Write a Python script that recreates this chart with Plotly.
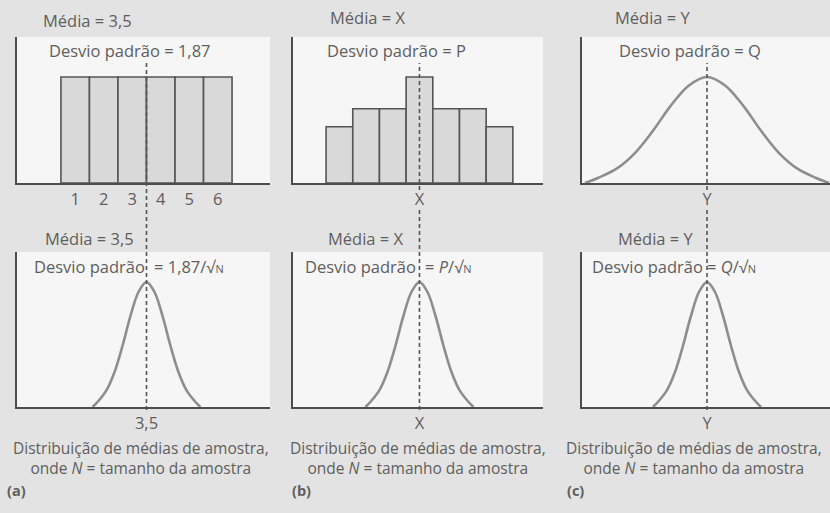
import plotly.graph_objects as go

W, H = 830, 513

# ---------------- data ----------------
die_faces = [1, 2, 3, 4, 5, 6]
die_freq = [1, 1, 1, 1, 1, 1]

pop_b_bins = [-3, -2, -1, 0, 1, 2, 3]
pop_b_freq = [0.53, 0.70, 0.70, 1.0, 0.70, 0.70, 0.53]

# bell-shaped profile (offset in SD units, relative height)
bell_z = [-2.7, -2.4, -2.0, -1.6, -1.2, -0.8, -0.4, 0.0, 0.4, 0.8, 1.2, 1.6, 2.0, 2.4, 2.7]
bell_h = [0.0, 0.05, 0.135, 0.28, 0.49, 0.73, 0.92, 1.0, 0.92, 0.73, 0.49, 0.28, 0.135, 0.05, 0.0]

mean_a, mean_b, mean_c = 3.5, 0.0, 0.0
sd_pop_c = 1.13
sd_means = [0.70, 0.75, 0.50]

tick_a_top = ["1", "2", "3", "4", "5", "6"]
tick_a_bot = ["3,5"]
tick_b = ["X"]
tick_c = ["Y"]

# ---------------- styling ----------------
FONT = "Open Sans"
TXT = "#5e5e5e"
AXC = "#4d4d4d"
CURVE = "#8e8e8e"
BAR_FILL = "#d9d9d9"
BAR_EDGE = "#555555"
FS = 16.5
FS_CAP = 15.5
BG = "#e3e3e3"


def px_x(p):
    return p / W


def px_y(p):
    return 1 - p / H


fig = go.Figure()

# top panels
fig.add_trace(go.Bar(x=die_faces, y=die_freq, width=1.0, marker=dict(color=BAR_FILL, line=dict(color=BAR_EDGE, width=1.6)),
                     xaxis="x", yaxis="y", showlegend=False, hoverinfo="skip"))
fig.add_trace(go.Bar(x=pop_b_bins, y=pop_b_freq, width=1.0, marker=dict(color=BAR_FILL, line=dict(color=BAR_EDGE, width=1.6)),
                     xaxis="x2", yaxis="y2", showlegend=False, hoverinfo="skip"))
fig.add_trace(go.Scatter(x=[mean_c + z * sd_pop_c for z in bell_z], y=bell_h, mode="lines",
                         line=dict(color=CURVE, width=2.6, shape="spline"), xaxis="x3", yaxis="y3",
                         showlegend=False, hoverinfo="skip"))

# bottom panels: distributions of sample means
for i, (m, sd) in enumerate(zip([mean_a, mean_b, mean_c], sd_means)):
    fig.add_trace(go.Scatter(x=[m + z * sd for z in bell_z], y=bell_h, mode="lines",
                             line=dict(color=CURVE, width=2.6, shape="spline"),
                             xaxis=f"x{i + 4}", yaxis=f"y{i + 4}", showlegend=False, hoverinfo="skip"))

cols = [(17, 270), (293, 543), (582, 830)]
top_row = (37, 183)
bot_row = (252, 407)
xranges = [(-1.04, 7.83), (-4.74, 4.63), (-3.125, 3.075)]

axis_common = dict(showgrid=False, zeroline=False, showline=True, linecolor=AXC, linewidth=2,
                   ticks="", fixedrange=True)

layout = dict(width=W, height=H, margin=dict(l=0, r=0, t=0, b=0),
              paper_bgcolor=BG, plot_bgcolor="#f6f6f6",
              font=dict(family=FONT, size=FS, color=TXT), bargap=0, showlegend=False)

tickinfo_top = [(die_faces, tick_a_top), ([mean_b], tick_b), ([mean_c], tick_c)]
tickinfo_bot = [([mean_a], tick_a_bot), ([mean_b], tick_b), ([mean_c], tick_c)]

for r, (row, tickinfo, yr) in enumerate([(top_row, tickinfo_top, (0, 1.377)), (bot_row, tickinfo_bot, (0, 1.24))]):
    for c in range(3):
        n = r * 3 + c + 1
        xs = "" if n == 1 else str(n)
        x0, x1 = cols[c]
        layout[f"xaxis{xs}"] = dict(axis_common, domain=[px_x(x0), px_x(x1)], range=list(xranges[c]),
                                    anchor=f"y{xs}", tickvals=tickinfo[c][0], ticktext=tickinfo[c][1],
                                    tickfont=dict(size=FS, color=TXT), ticklabelstandoff=0)
        layout[f"yaxis{xs}"] = dict(axis_common, domain=[px_y(row[1]), px_y(row[0])], range=list(yr),
                                    anchor=f"x{xs}", showticklabels=False)

fig.update_layout(**layout)

# dashed mean lines
dash = dict(color="#555555", width=1.6, dash="4px,3px")
fig.add_shape(type="line", xref="x", yref="paper", x0=mean_a, x1=mean_a, y0=px_y(410), y1=px_y(63), line=dash)
fig.add_shape(type="line", xref="x2", yref="paper", x0=mean_b, x1=mean_b, y0=px_y(190), y1=px_y(63), line=dash)
fig.add_shape(type="line", xref="x5", yref="paper", x0=mean_b, x1=mean_b, y0=px_y(410), y1=px_y(209), line=dash)
fig.add_shape(type="line", xref="x3", yref="paper", x0=mean_c, x1=mean_c, y0=px_y(190), y1=px_y(63), line=dash)
fig.add_shape(type="line", xref="x6", yref="paper", x0=mean_c, x1=mean_c, y0=px_y(410), y1=px_y(209), line=dash)


def ann(text, x, y, anchor="center", size=FS):
    fig.add_annotation(text=text, x=px_x(x), y=px_y(y), xref="paper", yref="paper", showarrow=False,
                       xanchor=anchor, yanchor="middle", font=dict(family=FONT, size=size, color=TXT))


small_n = "<span style='font-size:11px'>N</span>"
# top texts
ann("Média = 3,5", 87, 20)
ann("Desvio padrão = 1,87", 130, 50)
ann("Média = X", 368, 17)
ann("Desvio padrão = P", 396, 50)
ann("Média = Y", 653, 17)
ann("Desvio padrão = Q", 690, 50)

# bottom texts
ann("Média = 3,5", 89, 238)
ann("Desvio padrão", 32, 266, "left")
ann("= 1,87/√" + small_n, 152, 266, "left")
ann("Média = X", 366, 238)
ann("Desvio padrão", 303, 266, "left")
ann("= <i>P</i>/√" + small_n, 423, 266, "left")
ann("Média = Y", 656, 238)
ann("Desvio padrão", 590, 266, "left")
ann("= <i>Q</i>/√" + small_n, 705, 266, "left")

for cx, lx, lab in [(141, 5, "(a)"), (418, 290, "(b)"), (694, 565, "(c)")]:
    ann("Distribuição de médias de amostra,<br>onde <i>N</i> = tamanho da amostra", cx, 458, size=FS_CAP)
    ann("<b>" + lab + "</b>", lx, 490, "left", size=14.5)

fig.write_html("out.html", config={"displayModeBar": False, "staticPlot": True},
               post_script=f"document.body.style.margin='0';document.body.style.background='{BG}';")
